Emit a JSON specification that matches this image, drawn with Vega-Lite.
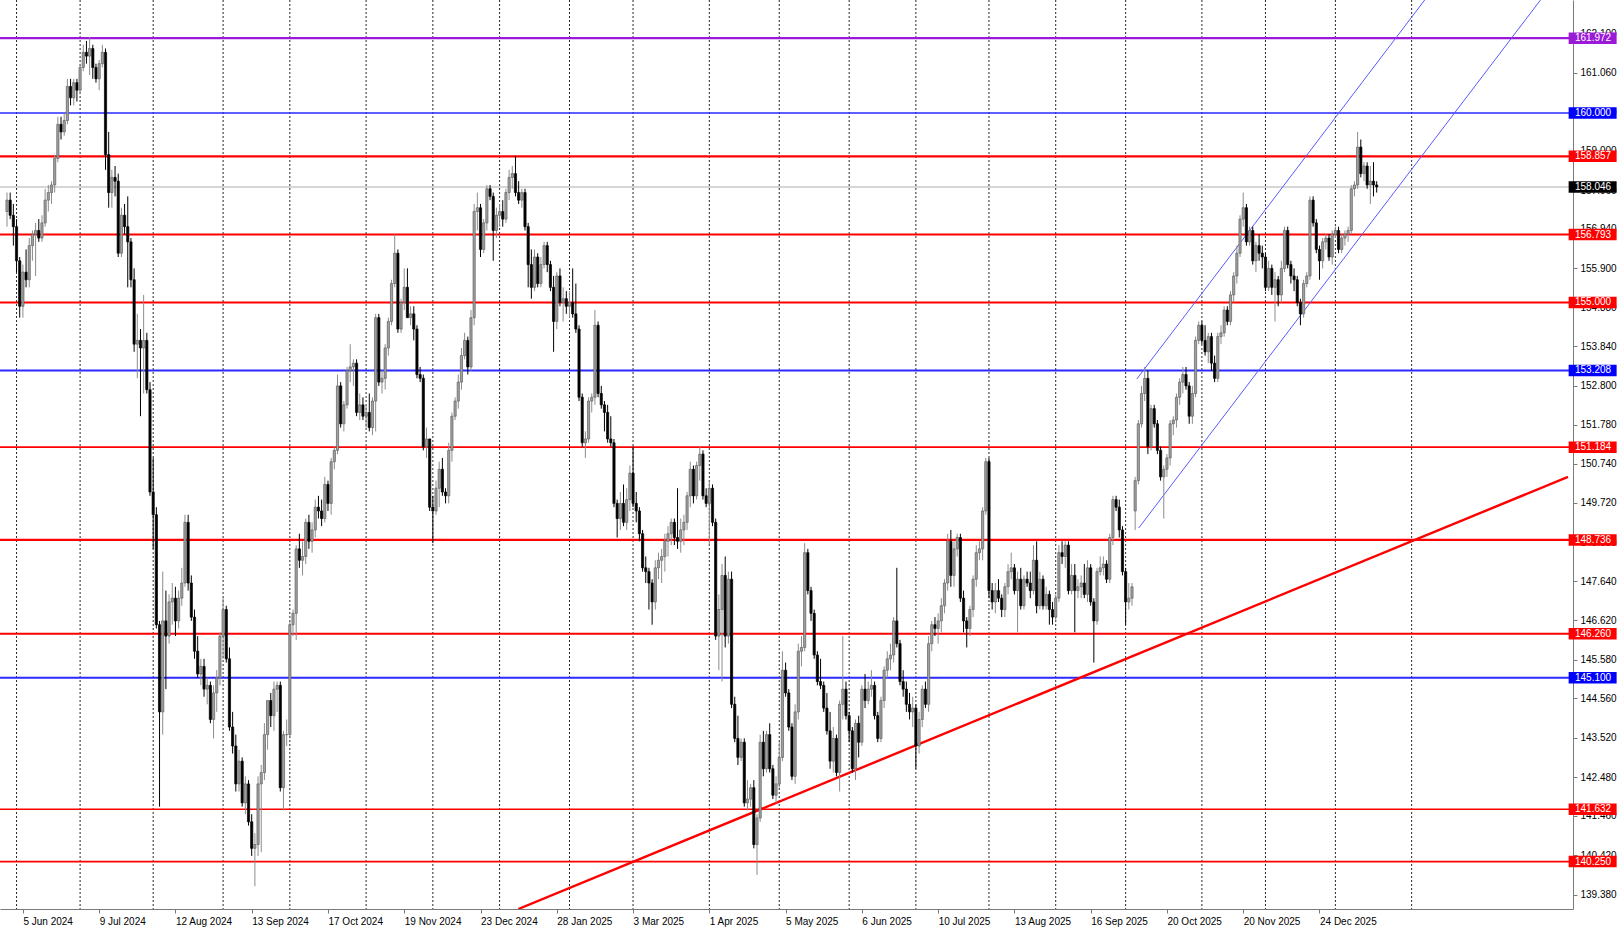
{
"$schema": "https://vega.github.io/schema/vega-lite/v6.json",
"width": 1573, "height": 909,
"autosize": {"type": "none"},
"padding": {"left": 0, "top": 0, "right": 47, "bottom": 18},
"background": "#ffffff",
"config": {"view": {"stroke": null}, "font": "Liberation Sans"},
"resolve": {"scale": {"color": "independent"}},
"datasets": {
"grid": [{"i":3},{"i":23},{"i":46},{"i":68},{"i":89},{"i":113},{"i":134},{"i":155},{"i":177},{"i":197},{"i":221},{"i":243},{"i":265},{"i":286},{"i":309},{"i":330},{"i":352},{"i":376},{"i":396},{"i":418},{"i":442}],
"levels": [
{"p":161.972,"kind":"purple","tier":"heavy"},
{"p":160.0,"kind":"blue","tier":"thin"},
{"p":158.857,"kind":"red","tier":"heavy"},
{"p":158.046,"kind":"price","tier":"thin"},
{"p":156.793,"kind":"red","tier":"mid"},
{"p":155.0,"kind":"red","tier":"mid"},
{"p":153.208,"kind":"blue","tier":"mid"},
{"p":151.184,"kind":"red","tier":"mid"},
{"p":148.736,"kind":"red","tier":"heavy"},
{"p":146.26,"kind":"red","tier":"mid"},
{"p":145.1,"kind":"blue","tier":"mid"},
{"p":141.632,"kind":"red","tier":"thin"},
{"p":140.25,"kind":"red","tier":"mid"}],
"trend": [{"i":160.9,"p":139.0},{"i":491.2,"p":150.4}],
"channel": [{"i":355.5,"p":152.98,"line":"upper"},{"i":450,"p":163.41,"line":"upper"},{"i":356.1,"p":149.05,"line":"lower"},{"i":485,"p":163.25,"line":"lower"}],
"candles": [
{"i":0,"o":157.4,"h":157.9,"l":157.0,"c":157.7},
{"i":1,"o":157.7,"h":157.9,"l":157.2,"c":157.3},
{"i":2,"o":157.3,"h":157.6,"l":156.5,"c":157.0},
{"i":3,"o":157.0,"h":157.2,"l":155.8,"c":156.1},
{"i":4,"o":156.1,"h":156.2,"l":154.6,"c":154.9},
{"i":5,"o":154.9,"h":156.0,"l":154.6,"c":155.8},
{"i":6,"o":155.8,"h":156.4,"l":155.4,"c":155.6},
{"i":7,"o":155.6,"h":156.7,"l":155.4,"c":156.5},
{"i":8,"o":156.5,"h":156.9,"l":156.1,"c":156.8},
{"i":9,"o":156.8,"h":157.1,"l":155.7,"c":156.9},
{"i":10,"o":156.9,"h":157.2,"l":156.6,"c":156.7},
{"i":11,"o":156.7,"h":157.3,"l":156.6,"c":157.1},
{"i":12,"o":157.1,"h":158.0,"l":157.0,"c":157.7},
{"i":13,"o":157.7,"h":158.1,"l":157.4,"c":157.9},
{"i":14,"o":157.9,"h":158.2,"l":157.6,"c":158.1},
{"i":15,"o":158.1,"h":158.9,"l":157.9,"c":158.8},
{"i":16,"o":158.8,"h":159.9,"l":158.7,"c":159.7},
{"i":17,"o":159.7,"h":159.9,"l":159.3,"c":159.5},
{"i":18,"o":159.5,"h":160.0,"l":159.4,"c":159.8},
{"i":19,"o":159.8,"h":160.9,"l":159.7,"c":160.7},
{"i":20,"o":160.7,"h":160.9,"l":160.2,"c":160.4},
{"i":21,"o":160.4,"h":160.9,"l":160.2,"c":160.8},
{"i":22,"o":160.8,"h":160.9,"l":160.3,"c":160.6},
{"i":23,"o":160.6,"h":161.3,"l":160.5,"c":161.2},
{"i":24,"o":161.2,"h":161.8,"l":161.1,"c":161.6},
{"i":25,"o":161.6,"h":161.9,"l":161.3,"c":161.5},
{"i":26,"o":161.5,"h":162.0,"l":161.0,"c":161.7},
{"i":27,"o":161.7,"h":161.8,"l":160.9,"c":161.2},
{"i":28,"o":161.2,"h":161.3,"l":160.8,"c":160.9},
{"i":29,"o":160.9,"h":161.4,"l":160.6,"c":161.3},
{"i":30,"o":161.3,"h":161.8,"l":161.2,"c":161.6},
{"i":31,"o":161.6,"h":161.7,"l":158.5,"c":158.9},
{"i":32,"o":158.9,"h":159.5,"l":157.5,"c":157.9},
{"i":33,"o":157.9,"h":158.5,"l":157.5,"c":158.3},
{"i":34,"o":158.3,"h":158.6,"l":157.8,"c":158.2},
{"i":35,"o":158.2,"h":158.4,"l":156.2,"c":156.3},
{"i":36,"o":156.3,"h":157.5,"l":156.2,"c":157.3},
{"i":37,"o":157.3,"h":157.6,"l":156.8,"c":157.0},
{"i":38,"o":157.0,"h":157.8,"l":155.4,"c":156.6},
{"i":39,"o":156.6,"h":156.7,"l":155.4,"c":155.6},
{"i":40,"o":155.6,"h":155.9,"l":153.7,"c":153.9},
{"i":41,"o":153.9,"h":154.7,"l":153.0,"c":154.0},
{"i":42,"o":154.0,"h":154.3,"l":152.0,"c":153.8},
{"i":43,"o":153.8,"h":155.2,"l":152.6,"c":154.0},
{"i":44,"o":154.0,"h":154.2,"l":152.6,"c":152.7},
{"i":45,"o":152.7,"h":152.9,"l":149.9,"c":150.0},
{"i":46,"o":150.0,"h":150.9,"l":148.5,"c":149.4},
{"i":47,"o":149.4,"h":149.6,"l":146.4,"c":146.5},
{"i":48,"o":146.5,"h":146.6,"l":141.7,"c":144.2},
{"i":49,"o":144.2,"h":147.9,"l":143.6,"c":146.6},
{"i":50,"o":146.6,"h":147.4,"l":144.8,"c":146.2},
{"i":51,"o":146.2,"h":147.3,"l":146.0,"c":147.1},
{"i":52,"o":147.1,"h":147.6,"l":146.5,"c":147.2},
{"i":53,"o":147.2,"h":147.5,"l":146.2,"c":146.6},
{"i":54,"o":146.6,"h":147.4,"l":146.4,"c":147.2},
{"i":55,"o":147.2,"h":148.0,"l":147.0,"c":147.6},
{"i":56,"o":147.6,"h":149.4,"l":147.5,"c":149.2},
{"i":57,"o":149.2,"h":149.4,"l":147.4,"c":147.6},
{"i":58,"o":147.6,"h":147.8,"l":146.6,"c":146.7},
{"i":59,"o":146.7,"h":146.9,"l":145.6,"c":145.8},
{"i":60,"o":145.8,"h":146.2,"l":145.1,"c":145.2},
{"i":61,"o":145.2,"h":145.6,"l":144.9,"c":145.4},
{"i":62,"o":145.4,"h":145.6,"l":144.6,"c":144.8},
{"i":63,"o":144.8,"h":145.1,"l":144.4,"c":144.9},
{"i":64,"o":144.9,"h":145.0,"l":143.9,"c":144.0},
{"i":65,"o":144.0,"h":144.9,"l":143.5,"c":144.7},
{"i":66,"o":144.7,"h":145.3,"l":144.2,"c":145.1},
{"i":67,"o":145.1,"h":146.3,"l":144.9,"c":146.2},
{"i":68,"o":146.2,"h":147.2,"l":145.6,"c":146.9},
{"i":69,"o":146.9,"h":147.0,"l":145.5,"c":145.6},
{"i":70,"o":145.6,"h":145.9,"l":143.7,"c":143.8},
{"i":71,"o":143.8,"h":144.2,"l":143.1,"c":143.3},
{"i":72,"o":143.3,"h":143.6,"l":142.1,"c":142.3},
{"i":73,"o":142.3,"h":143.2,"l":142.1,"c":142.9},
{"i":74,"o":142.9,"h":143.0,"l":141.7,"c":141.8},
{"i":75,"o":141.8,"h":142.5,"l":141.5,"c":142.3},
{"i":76,"o":142.3,"h":142.4,"l":141.2,"c":141.3},
{"i":77,"o":141.3,"h":141.5,"l":140.4,"c":140.6},
{"i":78,"o":140.6,"h":141.0,"l":139.6,"c":140.7},
{"i":79,"o":140.7,"h":142.5,"l":140.4,"c":142.3},
{"i":80,"o":142.3,"h":142.8,"l":140.5,"c":142.6},
{"i":81,"o":142.6,"h":143.9,"l":142.4,"c":143.6},
{"i":82,"o":143.6,"h":144.5,"l":143.2,"c":144.5},
{"i":83,"o":144.5,"h":144.7,"l":143.8,"c":144.1},
{"i":84,"o":144.1,"h":145.0,"l":143.7,"c":144.8},
{"i":85,"o":144.8,"h":145.0,"l":144.2,"c":144.9},
{"i":86,"o":144.9,"h":145.0,"l":142.1,"c":142.2},
{"i":87,"o":142.2,"h":143.7,"l":141.6,"c":143.6},
{"i":88,"o":143.6,"h":144.0,"l":143.3,"c":143.6},
{"i":89,"o":143.6,"h":146.6,"l":143.5,"c":146.5},
{"i":90,"o":146.5,"h":146.9,"l":146.2,"c":146.8},
{"i":91,"o":146.8,"h":148.6,"l":146.1,"c":148.5},
{"i":92,"o":148.5,"h":148.9,"l":148.0,"c":148.2},
{"i":93,"o":148.2,"h":148.7,"l":147.8,"c":148.3},
{"i":94,"o":148.3,"h":149.3,"l":148.1,"c":149.2},
{"i":95,"o":149.2,"h":149.4,"l":148.5,"c":148.7},
{"i":96,"o":148.7,"h":149.2,"l":148.4,"c":149.0},
{"i":97,"o":149.0,"h":149.8,"l":148.8,"c":149.6},
{"i":98,"o":149.6,"h":149.9,"l":149.3,"c":149.5},
{"i":99,"o":149.5,"h":149.8,"l":149.1,"c":149.3},
{"i":100,"o":149.3,"h":150.4,"l":149.2,"c":150.2},
{"i":101,"o":150.2,"h":150.3,"l":149.5,"c":149.7},
{"i":102,"o":149.7,"h":150.9,"l":149.4,"c":150.8},
{"i":103,"o":150.8,"h":151.2,"l":150.6,"c":151.1},
{"i":104,"o":151.1,"h":153.1,"l":151.0,"c":152.8},
{"i":105,"o":152.8,"h":152.9,"l":151.7,"c":151.8},
{"i":106,"o":151.8,"h":152.4,"l":151.6,"c":152.3},
{"i":107,"o":152.3,"h":153.3,"l":152.2,"c":153.2},
{"i":108,"o":153.2,"h":153.9,"l":152.9,"c":153.3},
{"i":109,"o":153.3,"h":153.5,"l":152.8,"c":153.4},
{"i":110,"o":153.4,"h":153.5,"l":152.0,"c":152.1},
{"i":111,"o":152.1,"h":152.6,"l":151.9,"c":152.3},
{"i":112,"o":152.3,"h":152.5,"l":151.9,"c":152.0},
{"i":113,"o":152.0,"h":152.3,"l":151.7,"c":152.1},
{"i":114,"o":152.1,"h":152.6,"l":151.6,"c":151.7},
{"i":115,"o":151.7,"h":152.5,"l":151.5,"c":152.4},
{"i":116,"o":152.4,"h":154.7,"l":151.6,"c":154.6},
{"i":117,"o":154.6,"h":154.7,"l":152.8,"c":152.9},
{"i":118,"o":152.9,"h":153.2,"l":152.6,"c":153.0},
{"i":119,"o":153.0,"h":153.9,"l":152.7,"c":153.8},
{"i":120,"o":153.8,"h":154.6,"l":153.6,"c":154.5},
{"i":121,"o":154.5,"h":155.6,"l":154.4,"c":155.5},
{"i":122,"o":155.5,"h":156.8,"l":155.4,"c":156.3},
{"i":123,"o":156.3,"h":156.4,"l":154.2,"c":154.3},
{"i":124,"o":154.3,"h":155.1,"l":154.2,"c":155.0},
{"i":125,"o":155.0,"h":155.9,"l":154.8,"c":155.4},
{"i":126,"o":155.4,"h":155.9,"l":154.6,"c":154.6},
{"i":127,"o":154.6,"h":154.9,"l":154.4,"c":154.7},
{"i":128,"o":154.7,"h":154.9,"l":154.0,"c":154.3},
{"i":129,"o":154.3,"h":154.4,"l":153.0,"c":153.1},
{"i":130,"o":153.1,"h":153.3,"l":152.9,"c":153.0},
{"i":131,"o":153.0,"h":153.1,"l":151.1,"c":151.2},
{"i":132,"o":151.2,"h":151.7,"l":150.9,"c":151.4},
{"i":133,"o":151.4,"h":151.4,"l":149.5,"c":149.6},
{"i":134,"o":149.6,"h":149.9,"l":148.65,"c":149.5},
{"i":135,"o":149.5,"h":150.3,"l":149.4,"c":150.1},
{"i":136,"o":150.1,"h":150.8,"l":149.6,"c":150.6},
{"i":137,"o":150.6,"h":150.9,"l":149.9,"c":150.0},
{"i":138,"o":150.0,"h":150.1,"l":149.7,"c":149.9},
{"i":139,"o":149.9,"h":151.3,"l":149.7,"c":151.1},
{"i":140,"o":151.1,"h":152.1,"l":150.8,"c":152.0},
{"i":141,"o":152.0,"h":152.5,"l":151.9,"c":152.4},
{"i":142,"o":152.4,"h":153.1,"l":152.2,"c":152.9},
{"i":143,"o":152.9,"h":153.8,"l":152.7,"c":153.6},
{"i":144,"o":153.6,"h":154.2,"l":153.5,"c":154.0},
{"i":145,"o":154.0,"h":154.1,"l":153.1,"c":153.3},
{"i":146,"o":153.3,"h":154.8,"l":153.2,"c":154.6},
{"i":147,"o":154.6,"h":157.6,"l":154.4,"c":157.4},
{"i":148,"o":157.4,"h":157.9,"l":156.9,"c":157.5},
{"i":149,"o":157.5,"h":157.6,"l":156.2,"c":156.4},
{"i":150,"o":156.4,"h":157.2,"l":156.3,"c":157.1},
{"i":151,"o":157.1,"h":158.1,"l":156.9,"c":158.0},
{"i":152,"o":158.0,"h":158.1,"l":157.7,"c":157.8},
{"i":153,"o":157.8,"h":157.9,"l":156.1,"c":156.9},
{"i":154,"o":156.9,"h":157.5,"l":156.7,"c":157.3},
{"i":155,"o":157.3,"h":157.6,"l":157.0,"c":157.4},
{"i":156,"o":157.4,"h":157.7,"l":157.0,"c":157.2},
{"i":157,"o":157.2,"h":158.0,"l":157.1,"c":157.9},
{"i":158,"o":157.9,"h":158.5,"l":157.7,"c":158.3},
{"i":159,"o":158.3,"h":158.6,"l":158.0,"c":158.4},
{"i":160,"o":158.4,"h":158.87,"l":157.8,"c":157.9},
{"i":161,"o":157.9,"h":158.2,"l":157.6,"c":157.7},
{"i":162,"o":157.7,"h":158.0,"l":157.5,"c":157.9},
{"i":163,"o":157.9,"h":158.0,"l":156.9,"c":157.0},
{"i":164,"o":157.0,"h":157.1,"l":155.4,"c":156.0},
{"i":165,"o":156.0,"h":156.4,"l":155.1,"c":155.4},
{"i":166,"o":155.4,"h":156.4,"l":155.3,"c":156.2},
{"i":167,"o":156.2,"h":156.3,"l":155.4,"c":155.5},
{"i":168,"o":155.5,"h":156.2,"l":155.4,"c":156.0},
{"i":169,"o":156.0,"h":156.6,"l":155.9,"c":156.5},
{"i":170,"o":156.5,"h":156.6,"l":155.8,"c":156.0},
{"i":171,"o":156.0,"h":156.1,"l":155.3,"c":155.4},
{"i":172,"o":155.4,"h":155.7,"l":153.7,"c":154.5},
{"i":173,"o":154.5,"h":155.8,"l":154.3,"c":155.7},
{"i":174,"o":155.7,"h":155.9,"l":154.9,"c":155.0},
{"i":175,"o":155.0,"h":155.4,"l":154.5,"c":155.1},
{"i":176,"o":155.1,"h":155.3,"l":154.7,"c":154.9},
{"i":177,"o":154.9,"h":155.3,"l":154.6,"c":155.0},
{"i":178,"o":155.0,"h":155.9,"l":154.6,"c":154.7},
{"i":179,"o":154.7,"h":155.5,"l":154.2,"c":154.3},
{"i":180,"o":154.3,"h":154.4,"l":152.4,"c":152.5},
{"i":181,"o":152.5,"h":152.6,"l":151.2,"c":151.3},
{"i":182,"o":151.3,"h":151.6,"l":150.9,"c":151.4},
{"i":183,"o":151.4,"h":152.5,"l":151.3,"c":152.4},
{"i":184,"o":152.4,"h":152.6,"l":152.1,"c":152.5},
{"i":185,"o":152.5,"h":154.8,"l":152.3,"c":154.4},
{"i":186,"o":154.4,"h":154.5,"l":152.5,"c":152.6},
{"i":187,"o":152.6,"h":152.8,"l":152.2,"c":152.3},
{"i":188,"o":152.3,"h":152.4,"l":151.6,"c":152.1},
{"i":189,"o":152.1,"h":152.3,"l":151.3,"c":151.4},
{"i":190,"o":151.4,"h":152.0,"l":151.2,"c":151.3},
{"i":191,"o":151.3,"h":151.4,"l":149.6,"c":149.7},
{"i":192,"o":149.7,"h":149.8,"l":148.8,"c":149.3},
{"i":193,"o":149.3,"h":150.0,"l":149.0,"c":149.7},
{"i":194,"o":149.7,"h":150.2,"l":149.1,"c":149.2},
{"i":195,"o":149.2,"h":150.1,"l":149.0,"c":149.8},
{"i":196,"o":149.8,"h":150.7,"l":149.5,"c":150.5},
{"i":197,"o":150.5,"h":151.2,"l":149.6,"c":149.7},
{"i":198,"o":149.7,"h":150.0,"l":149.2,"c":149.5},
{"i":199,"o":149.5,"h":149.6,"l":148.7,"c":148.9},
{"i":200,"o":148.9,"h":149.0,"l":147.9,"c":148.0},
{"i":201,"o":148.0,"h":148.3,"l":147.6,"c":147.9},
{"i":202,"o":147.9,"h":148.0,"l":146.9,"c":147.6},
{"i":203,"o":147.6,"h":147.7,"l":146.5,"c":147.1},
{"i":204,"o":147.1,"h":148.2,"l":146.9,"c":148.0},
{"i":205,"o":148.0,"h":148.4,"l":147.7,"c":148.2},
{"i":206,"o":148.2,"h":148.5,"l":147.6,"c":148.3},
{"i":207,"o":148.3,"h":148.9,"l":147.9,"c":148.7},
{"i":208,"o":148.7,"h":149.1,"l":148.3,"c":148.9},
{"i":209,"o":148.9,"h":149.3,"l":148.6,"c":149.2},
{"i":210,"o":149.2,"h":149.3,"l":148.6,"c":148.8},
{"i":211,"o":148.8,"h":150.1,"l":148.5,"c":148.7},
{"i":212,"o":148.7,"h":149.3,"l":148.4,"c":149.0},
{"i":213,"o":149.0,"h":149.4,"l":148.6,"c":149.2},
{"i":214,"o":149.2,"h":150.0,"l":149.0,"c":149.9},
{"i":215,"o":149.9,"h":150.8,"l":149.6,"c":150.6},
{"i":216,"o":150.6,"h":150.7,"l":149.7,"c":149.9},
{"i":217,"o":149.9,"h":150.8,"l":149.8,"c":150.7},
{"i":218,"o":150.7,"h":151.2,"l":150.3,"c":151.0},
{"i":219,"o":151.0,"h":151.1,"l":149.8,"c":149.9},
{"i":220,"o":149.9,"h":150.1,"l":149.6,"c":149.7},
{"i":221,"o":149.7,"h":150.3,"l":148.6,"c":150.1},
{"i":222,"o":150.1,"h":150.2,"l":149.1,"c":149.2},
{"i":223,"o":149.2,"h":149.3,"l":146.1,"c":146.2},
{"i":224,"o":146.2,"h":147.3,"l":145.3,"c":146.9},
{"i":225,"o":146.9,"h":148.1,"l":145.0,"c":147.8},
{"i":226,"o":147.8,"h":148.3,"l":145.9,"c":146.2},
{"i":227,"o":146.2,"h":147.9,"l":146.0,"c":147.7},
{"i":228,"o":147.7,"h":147.9,"l":144.3,"c":144.4},
{"i":229,"o":144.4,"h":144.6,"l":143.4,"c":143.5},
{"i":230,"o":143.5,"h":144.1,"l":142.8,"c":143.0},
{"i":231,"o":143.0,"h":143.5,"l":142.9,"c":143.4},
{"i":232,"o":143.4,"h":143.5,"l":141.7,"c":141.8},
{"i":233,"o":141.8,"h":142.4,"l":141.6,"c":141.9},
{"i":234,"o":141.9,"h":142.3,"l":141.7,"c":142.2},
{"i":235,"o":142.2,"h":142.4,"l":140.6,"c":140.7},
{"i":236,"o":140.7,"h":141.5,"l":139.9,"c":141.4},
{"i":237,"o":141.4,"h":143.6,"l":141.3,"c":143.4},
{"i":238,"o":143.4,"h":143.7,"l":142.5,"c":142.7},
{"i":239,"o":142.7,"h":143.7,"l":142.6,"c":143.6},
{"i":240,"o":143.6,"h":143.9,"l":142.6,"c":142.7},
{"i":241,"o":142.7,"h":142.8,"l":141.9,"c":142.0},
{"i":242,"o":142.0,"h":142.5,"l":141.8,"c":142.3},
{"i":243,"o":142.3,"h":143.4,"l":142.2,"c":143.0},
{"i":244,"o":143.0,"h":145.8,"l":142.9,"c":145.3},
{"i":245,"o":145.3,"h":145.5,"l":144.6,"c":144.7},
{"i":246,"o":144.7,"h":144.8,"l":143.7,"c":143.8},
{"i":247,"o":143.8,"h":143.9,"l":142.4,"c":142.5},
{"i":248,"o":142.5,"h":144.4,"l":142.3,"c":144.2},
{"i":249,"o":144.2,"h":146.0,"l":144.0,"c":145.8},
{"i":250,"o":145.8,"h":146.2,"l":145.4,"c":145.9},
{"i":251,"o":145.9,"h":148.65,"l":145.8,"c":148.4},
{"i":252,"o":148.4,"h":148.5,"l":147.3,"c":147.4},
{"i":253,"o":147.4,"h":147.5,"l":146.6,"c":146.8},
{"i":254,"o":146.8,"h":146.9,"l":145.6,"c":145.7},
{"i":255,"o":145.7,"h":145.8,"l":144.9,"c":145.0},
{"i":256,"o":145.0,"h":145.6,"l":144.8,"c":144.9},
{"i":257,"o":144.9,"h":145.0,"l":144.2,"c":144.3},
{"i":258,"o":144.3,"h":144.7,"l":143.6,"c":143.7},
{"i":259,"o":143.7,"h":144.2,"l":142.7,"c":142.9},
{"i":260,"o":142.9,"h":143.8,"l":142.6,"c":143.5},
{"i":261,"o":143.5,"h":143.6,"l":142.5,"c":142.6},
{"i":262,"o":142.6,"h":144.5,"l":142.1,"c":144.4},
{"i":263,"o":144.4,"h":146.2,"l":144.0,"c":144.8},
{"i":264,"o":144.8,"h":145.0,"l":144.0,"c":144.1},
{"i":265,"o":144.1,"h":144.2,"l":143.4,"c":143.7},
{"i":266,"o":143.7,"h":143.8,"l":142.6,"c":142.7},
{"i":267,"o":142.7,"h":144.0,"l":142.4,"c":143.9},
{"i":268,"o":143.9,"h":144.1,"l":143.0,"c":143.4},
{"i":269,"o":143.4,"h":144.9,"l":143.3,"c":144.8},
{"i":270,"o":144.8,"h":145.2,"l":144.3,"c":144.5},
{"i":271,"o":144.5,"h":145.0,"l":144.4,"c":144.8},
{"i":272,"o":144.8,"h":145.3,"l":144.6,"c":144.9},
{"i":273,"o":144.9,"h":145.0,"l":144.0,"c":144.1},
{"i":274,"o":144.1,"h":144.2,"l":143.4,"c":143.5},
{"i":275,"o":143.5,"h":144.6,"l":143.4,"c":144.5},
{"i":276,"o":144.5,"h":145.4,"l":144.3,"c":145.3},
{"i":277,"o":145.3,"h":145.8,"l":145.1,"c":145.6},
{"i":278,"o":145.6,"h":146.0,"l":145.3,"c":145.7},
{"i":279,"o":145.7,"h":146.7,"l":145.5,"c":146.6},
{"i":280,"o":146.6,"h":148.0,"l":145.9,"c":146.0},
{"i":281,"o":146.0,"h":146.1,"l":144.9,"c":145.0},
{"i":282,"o":145.0,"h":145.3,"l":144.6,"c":144.8},
{"i":283,"o":144.8,"h":145.0,"l":144.2,"c":144.4},
{"i":284,"o":144.4,"h":144.7,"l":144.0,"c":144.2},
{"i":285,"o":144.2,"h":144.6,"l":143.8,"c":144.3},
{"i":286,"o":144.3,"h":144.4,"l":142.7,"c":143.3},
{"i":287,"o":143.3,"h":144.2,"l":143.1,"c":144.0},
{"i":288,"o":144.0,"h":144.9,"l":143.8,"c":144.8},
{"i":289,"o":144.8,"h":145.0,"l":144.3,"c":144.4},
{"i":290,"o":144.4,"h":146.2,"l":144.2,"c":146.0},
{"i":291,"o":146.0,"h":146.6,"l":145.8,"c":146.5},
{"i":292,"o":146.5,"h":146.7,"l":146.2,"c":146.4},
{"i":293,"o":146.4,"h":146.8,"l":146.0,"c":146.6},
{"i":294,"o":146.6,"h":147.2,"l":146.3,"c":147.0},
{"i":295,"o":147.0,"h":147.7,"l":146.8,"c":147.6},
{"i":296,"o":147.6,"h":148.9,"l":147.4,"c":148.7},
{"i":297,"o":148.7,"h":149.0,"l":147.5,"c":147.8},
{"i":298,"o":147.8,"h":148.7,"l":147.5,"c":148.5},
{"i":299,"o":148.5,"h":148.9,"l":148.3,"c":148.8},
{"i":300,"o":148.8,"h":148.9,"l":147.1,"c":147.2},
{"i":301,"o":147.2,"h":147.4,"l":146.3,"c":146.6},
{"i":302,"o":146.6,"h":146.7,"l":145.9,"c":146.4},
{"i":303,"o":146.4,"h":147.0,"l":146.2,"c":146.9},
{"i":304,"o":146.9,"h":147.8,"l":146.7,"c":147.7},
{"i":305,"o":147.7,"h":148.6,"l":147.5,"c":148.4},
{"i":306,"o":148.4,"h":148.7,"l":148.2,"c":148.5},
{"i":307,"o":148.5,"h":149.6,"l":148.2,"c":149.5},
{"i":308,"o":149.5,"h":150.9,"l":149.4,"c":150.8},
{"i":309,"o":150.8,"h":150.9,"l":147.2,"c":147.4},
{"i":310,"o":147.4,"h":147.6,"l":146.9,"c":147.1},
{"i":311,"o":147.1,"h":147.6,"l":146.8,"c":147.4},
{"i":312,"o":147.4,"h":147.7,"l":147.1,"c":147.2},
{"i":313,"o":147.2,"h":147.3,"l":146.7,"c":146.9},
{"i":314,"o":146.9,"h":147.6,"l":146.7,"c":147.5},
{"i":315,"o":147.5,"h":148.1,"l":147.3,"c":147.9},
{"i":316,"o":147.9,"h":148.4,"l":147.7,"c":148.0},
{"i":317,"o":148.0,"h":148.1,"l":147.3,"c":147.4},
{"i":318,"o":147.4,"h":147.9,"l":146.3,"c":147.7},
{"i":319,"o":147.7,"h":148.0,"l":146.9,"c":147.0},
{"i":320,"o":147.0,"h":147.8,"l":146.9,"c":147.7},
{"i":321,"o":147.7,"h":147.9,"l":147.5,"c":147.6},
{"i":322,"o":147.6,"h":147.9,"l":147.2,"c":147.4},
{"i":323,"o":147.4,"h":148.6,"l":147.3,"c":148.2},
{"i":324,"o":148.2,"h":148.7,"l":146.8,"c":147.0},
{"i":325,"o":147.0,"h":147.9,"l":146.9,"c":147.7},
{"i":326,"o":147.7,"h":147.8,"l":146.9,"c":147.0},
{"i":327,"o":147.0,"h":147.5,"l":146.9,"c":147.3},
{"i":328,"o":147.3,"h":147.4,"l":146.5,"c":146.9},
{"i":329,"o":146.9,"h":147.1,"l":146.5,"c":146.7},
{"i":330,"o":146.7,"h":147.3,"l":146.6,"c":147.2},
{"i":331,"o":147.2,"h":148.6,"l":147.1,"c":148.4},
{"i":332,"o":148.4,"h":148.7,"l":148.1,"c":148.3},
{"i":333,"o":148.3,"h":148.7,"l":148.0,"c":148.6},
{"i":334,"o":148.6,"h":148.7,"l":147.3,"c":147.4},
{"i":335,"o":147.4,"h":148.1,"l":147.3,"c":147.8},
{"i":336,"o":147.8,"h":148.1,"l":146.3,"c":147.4},
{"i":337,"o":147.4,"h":147.7,"l":147.2,"c":147.5},
{"i":338,"o":147.5,"h":147.8,"l":147.2,"c":147.6},
{"i":339,"o":147.6,"h":148.1,"l":147.2,"c":147.3},
{"i":340,"o":147.3,"h":148.2,"l":147.1,"c":148.0},
{"i":341,"o":148.0,"h":148.1,"l":147.0,"c":147.1},
{"i":342,"o":147.1,"h":147.2,"l":145.5,"c":146.6},
{"i":343,"o":146.6,"h":148.0,"l":146.5,"c":147.9},
{"i":344,"o":147.9,"h":148.3,"l":147.8,"c":148.0},
{"i":345,"o":148.0,"h":148.3,"l":147.8,"c":148.1},
{"i":346,"o":148.1,"h":148.2,"l":147.6,"c":147.7},
{"i":347,"o":147.7,"h":148.9,"l":147.6,"c":148.8},
{"i":348,"o":148.8,"h":149.9,"l":148.6,"c":149.8},
{"i":349,"o":149.8,"h":149.9,"l":149.5,"c":149.6},
{"i":350,"o":149.6,"h":149.8,"l":148.8,"c":149.0},
{"i":351,"o":149.0,"h":149.1,"l":147.8,"c":147.9},
{"i":352,"o":147.9,"h":148.0,"l":146.5,"c":147.1},
{"i":353,"o":147.1,"h":147.6,"l":146.9,"c":147.2},
{"i":354,"o":147.2,"h":147.6,"l":147.0,"c":147.5},
{"i":355,"o":149.5,"h":150.4,"l":149.0,"c":150.3},
{"i":356,"o":150.3,"h":151.9,"l":150.2,"c":151.8},
{"i":357,"o":151.8,"h":152.8,"l":151.7,"c":152.6},
{"i":358,"o":152.6,"h":153.3,"l":152.4,"c":153.0},
{"i":359,"o":153.0,"h":153.2,"l":151.0,"c":151.2},
{"i":360,"o":151.2,"h":152.3,"l":151.1,"c":152.2},
{"i":361,"o":152.2,"h":152.3,"l":151.7,"c":151.8},
{"i":362,"o":151.8,"h":151.9,"l":151.0,"c":151.1},
{"i":363,"o":151.1,"h":151.2,"l":150.3,"c":150.4},
{"i":364,"o":150.4,"h":150.7,"l":149.3,"c":150.6},
{"i":365,"o":150.6,"h":151.0,"l":150.4,"c":150.9},
{"i":366,"o":150.9,"h":151.9,"l":150.7,"c":151.8},
{"i":367,"o":151.8,"h":152.0,"l":151.5,"c":151.9},
{"i":368,"o":151.9,"h":152.6,"l":151.7,"c":152.5},
{"i":369,"o":152.5,"h":153.0,"l":152.3,"c":152.9},
{"i":370,"o":152.9,"h":153.3,"l":152.6,"c":153.1},
{"i":371,"o":153.1,"h":153.3,"l":152.7,"c":152.8},
{"i":372,"o":152.8,"h":152.9,"l":151.8,"c":152.0},
{"i":373,"o":152.0,"h":152.8,"l":151.8,"c":152.6},
{"i":374,"o":152.6,"h":154.1,"l":152.5,"c":154.0},
{"i":375,"o":154.0,"h":154.5,"l":153.9,"c":154.4},
{"i":376,"o":154.4,"h":154.5,"l":153.9,"c":154.0},
{"i":377,"o":154.0,"h":154.4,"l":153.6,"c":153.7},
{"i":378,"o":153.7,"h":154.2,"l":153.4,"c":154.1},
{"i":379,"o":154.1,"h":154.2,"l":153.2,"c":153.4},
{"i":380,"o":153.4,"h":153.6,"l":152.9,"c":153.0},
{"i":381,"o":153.0,"h":154.2,"l":152.9,"c":154.1},
{"i":382,"o":154.1,"h":154.4,"l":153.9,"c":154.2},
{"i":383,"o":154.2,"h":154.9,"l":154.1,"c":154.8},
{"i":384,"o":154.8,"h":154.9,"l":154.4,"c":154.5},
{"i":385,"o":154.5,"h":155.3,"l":154.4,"c":155.2},
{"i":386,"o":155.2,"h":155.8,"l":155.0,"c":155.7},
{"i":387,"o":155.7,"h":156.5,"l":155.5,"c":156.3},
{"i":388,"o":156.3,"h":157.3,"l":156.2,"c":157.2},
{"i":389,"o":157.2,"h":157.9,"l":157.0,"c":157.5},
{"i":390,"o":157.5,"h":157.6,"l":156.5,"c":156.6},
{"i":391,"o":156.6,"h":157.0,"l":156.5,"c":156.9},
{"i":392,"o":156.9,"h":157.0,"l":156.0,"c":156.1},
{"i":393,"o":156.1,"h":156.6,"l":155.8,"c":156.5},
{"i":394,"o":156.5,"h":156.8,"l":156.1,"c":156.3},
{"i":395,"o":156.3,"h":156.5,"l":155.9,"c":156.2},
{"i":396,"o":156.2,"h":156.3,"l":155.3,"c":155.4},
{"i":397,"o":155.4,"h":156.1,"l":155.3,"c":155.9},
{"i":398,"o":155.9,"h":156.0,"l":155.2,"c":155.4},
{"i":399,"o":155.4,"h":155.8,"l":154.5,"c":155.6},
{"i":400,"o":155.6,"h":155.7,"l":154.9,"c":155.2},
{"i":401,"o":155.2,"h":156.1,"l":155.0,"c":155.9},
{"i":402,"o":155.9,"h":157.0,"l":155.8,"c":156.9},
{"i":403,"o":156.9,"h":157.0,"l":155.9,"c":156.0},
{"i":404,"o":156.0,"h":156.1,"l":155.5,"c":155.7},
{"i":405,"o":155.7,"h":155.9,"l":155.3,"c":155.6},
{"i":406,"o":155.6,"h":155.7,"l":154.9,"c":155.0},
{"i":407,"o":155.0,"h":155.1,"l":154.4,"c":154.7},
{"i":408,"o":154.7,"h":155.6,"l":154.6,"c":155.5},
{"i":409,"o":155.5,"h":155.8,"l":155.4,"c":155.7},
{"i":410,"o":155.7,"h":157.8,"l":155.6,"c":157.7},
{"i":411,"o":157.7,"h":157.8,"l":157.0,"c":157.1},
{"i":412,"o":157.1,"h":157.2,"l":156.3,"c":156.4},
{"i":413,"o":156.4,"h":156.5,"l":155.6,"c":156.1},
{"i":414,"o":156.1,"h":156.7,"l":155.9,"c":156.6},
{"i":415,"o":156.6,"h":156.8,"l":156.4,"c":156.7},
{"i":416,"o":156.7,"h":156.8,"l":156.1,"c":156.2},
{"i":417,"o":156.2,"h":156.9,"l":156.0,"c":156.8},
{"i":418,"o":156.8,"h":157.0,"l":156.7,"c":156.9},
{"i":419,"o":156.9,"h":157.0,"l":156.3,"c":156.4},
{"i":420,"o":156.4,"h":156.8,"l":156.3,"c":156.7},
{"i":421,"o":156.7,"h":156.9,"l":156.5,"c":156.8},
{"i":422,"o":156.8,"h":157.0,"l":156.6,"c":156.9},
{"i":423,"o":156.9,"h":158.1,"l":156.8,"c":158.0},
{"i":424,"o":158.0,"h":158.2,"l":157.8,"c":158.1},
{"i":425,"o":158.1,"h":159.5,"l":158.0,"c":159.1},
{"i":426,"o":159.1,"h":159.3,"l":158.3,"c":158.4},
{"i":427,"o":158.4,"h":158.7,"l":158.2,"c":158.6},
{"i":428,"o":158.6,"h":158.7,"l":158.0,"c":158.1},
{"i":429,"o":158.1,"h":158.6,"l":157.6,"c":158.2},
{"i":430,"o":158.2,"h":158.7,"l":157.8,"c":158.1},
{"i":431,"o":158.1,"h":158.2,"l":157.9,"c":158.05}
]
},
"layer": [
{
"data": {"name": "grid"},
"mark": {"type": "rule", "color": "#000000", "strokeWidth": 1, "strokeDash": [2, 2], "opacity": 0.85},
"encoding": {
"x": {"field": "i", "type": "quantitative", "title": null, "scale": {"domain": [-0.63, 491.2], "nice": false, "zero": false}}
}
},
{
"data": {"name": "levels"},
"mark": {"type": "rule"},
"encoding": {
"y": {"field": "p", "type": "quantitative", "title": null, "scale": {"domain": [139.0, 162.98], "nice": false, "zero": false}},
"color": {"field": "kind", "type": "nominal", "legend": null, "scale": {"domain": ["purple", "blue", "red", "price"], "range": ["#9a1ad8", "#2a2aff", "#ff0000", "#c8c8c8"]}},
"strokeWidth": {"field": "tier", "type": "nominal", "legend": null, "scale": {"domain": ["heavy", "mid", "thin"], "range": [2.3, 1.6, 1]}}
}
},
{
"data": {"name": "trend"},
"mark": {"type": "line", "color": "#ff0000", "strokeWidth": 2.4, "clip": true},
"encoding": {
"x": {"field": "i", "type": "quantitative", "title": null, "scale": {"domain": [-0.63, 491.2], "nice": false, "zero": false}},
"y": {"field": "p", "type": "quantitative", "title": null, "scale": {"domain": [139.0, 162.98], "nice": false, "zero": false}}
}
},
{
"data": {"name": "channel"},
"mark": {"type": "line", "color": "#5a5aff", "strokeWidth": 1, "clip": true},
"encoding": {
"x": {"field": "i", "type": "quantitative", "title": null, "scale": {"domain": [-0.63, 491.2], "nice": false, "zero": false}},
"y": {"field": "p", "type": "quantitative", "title": null, "scale": {"domain": [139.0, 162.98], "nice": false, "zero": false}},
"detail": {"field": "line", "type": "nominal"}
}
},
{
"data": {"name": "candles"},
"mark": {"type": "rule", "strokeWidth": 1},
"encoding": {
"x": {"field": "i", "type": "quantitative", "title": null, "scale": {"domain": [-0.63, 491.2], "nice": false, "zero": false},
  "axis": {"values": [5, 29, 53, 77, 101, 125, 149, 173, 197, 221, 245, 269, 293, 317, 341, 365, 389, 413],
    "labelExpr": "['5 Jun 2024','9 Jul 2024','12 Aug 2024','13 Sep 2024','17 Oct 2024','19 Nov 2024','23 Dec 2024','28 Jan 2025','3 Mar 2025','1 Apr 2025','5 May 2025','6 Jun 2025','10 Jul 2025','13 Aug 2025','16 Sep 2025','20 Oct 2025','20 Nov 2025','24 Dec 2025'][round((datum.value-5)/24)]",
    "labelAlign": "left", "labelBaseline": "top", "labelPadding": 3, "tickSize": 4, "labelFontSize": 10, "labelFont": "Liberation Sans", "labelColor": "#000000",
    "domainColor": "#7a7a7a", "tickColor": "#7a7a7a", "grid": false, "labelOverlap": false, "labelFlush": false, "zindex": 0}},
"y": {"field": "l", "type": "quantitative", "title": null, "scale": {"domain": [139.0, 162.98], "nice": false, "zero": false},
  "axis": {"orient": "right", "values": [139.38, 140.42, 141.46, 142.48, 143.52, 144.56, 145.58, 146.62, 147.64, 148.68, 149.72, 150.74, 151.78, 152.8, 153.84, 154.88, 155.9, 156.94, 157.96, 159.0, 160.02, 161.06, 162.1],
    "format": ".3f", "labelPadding": 3, "tickSize": 4, "labelFontSize": 10, "labelFont": "Liberation Sans", "labelColor": "#000000", "labelBaseline": "middle",
    "domainColor": "#7a7a7a", "tickColor": "#7a7a7a", "grid": false, "labelOverlap": false, "labelFlush": false, "zindex": 0}},
"y2": {"field": "h"},
"color": {"condition": {"test": "datum.c >= datum.o", "value": "#8c8c8c"}, "value": "#000000"}
}
},
{
"data": {"name": "candles"},
"mark": {"type": "bar", "width": 2.2, "strokeWidth": 0.7},
"encoding": {
"x": {"field": "i", "type": "quantitative", "title": null, "scale": {"domain": [-0.63, 491.2], "nice": false, "zero": false}},
"y": {"field": "o", "type": "quantitative", "title": null, "scale": {"domain": [139.0, 162.98], "nice": false, "zero": false}},
"y2": {"field": "c"},
"fill": {"condition": {"test": "datum.c >= datum.o", "value": "#a0a0a0"}, "value": "#000000"},
"stroke": {"condition": {"test": "datum.c >= datum.o", "value": "#606060"}, "value": "#000000"}
}
},
{
"data": {"name": "levels"},
"mark": {"type": "rule", "strokeWidth": 11.5, "clip": false},
"encoding": {
"x": {"datum": 491.4, "type": "quantitative", "scale": {"domain": [-0.63, 491.2], "nice": false, "zero": false}},
"x2": {"datum": 506.5},
"y": {"field": "p", "type": "quantitative", "title": null, "scale": {"domain": [139.0, 162.98], "nice": false, "zero": false}},
"color": {"field": "kind", "type": "nominal", "legend": null, "scale": {"domain": ["purple", "blue", "red", "price"], "range": ["#9a1ad8", "#0000ff", "#ff0000", "#000000"]}}
}
},
{
"data": {"name": "levels"},
"mark": {"type": "text", "align": "left", "baseline": "middle", "dx": 7, "fontSize": 10, "font": "Liberation Sans", "color": "#ffffff", "clip": false},
"encoding": {
"x": {"datum": 491.2, "type": "quantitative", "scale": {"domain": [-0.63, 491.2], "nice": false, "zero": false}},
"y": {"field": "p", "type": "quantitative", "title": null, "scale": {"domain": [139.0, 162.98], "nice": false, "zero": false}},
"text": {"field": "p", "type": "quantitative", "format": ".3f"}
}
}
]
}
